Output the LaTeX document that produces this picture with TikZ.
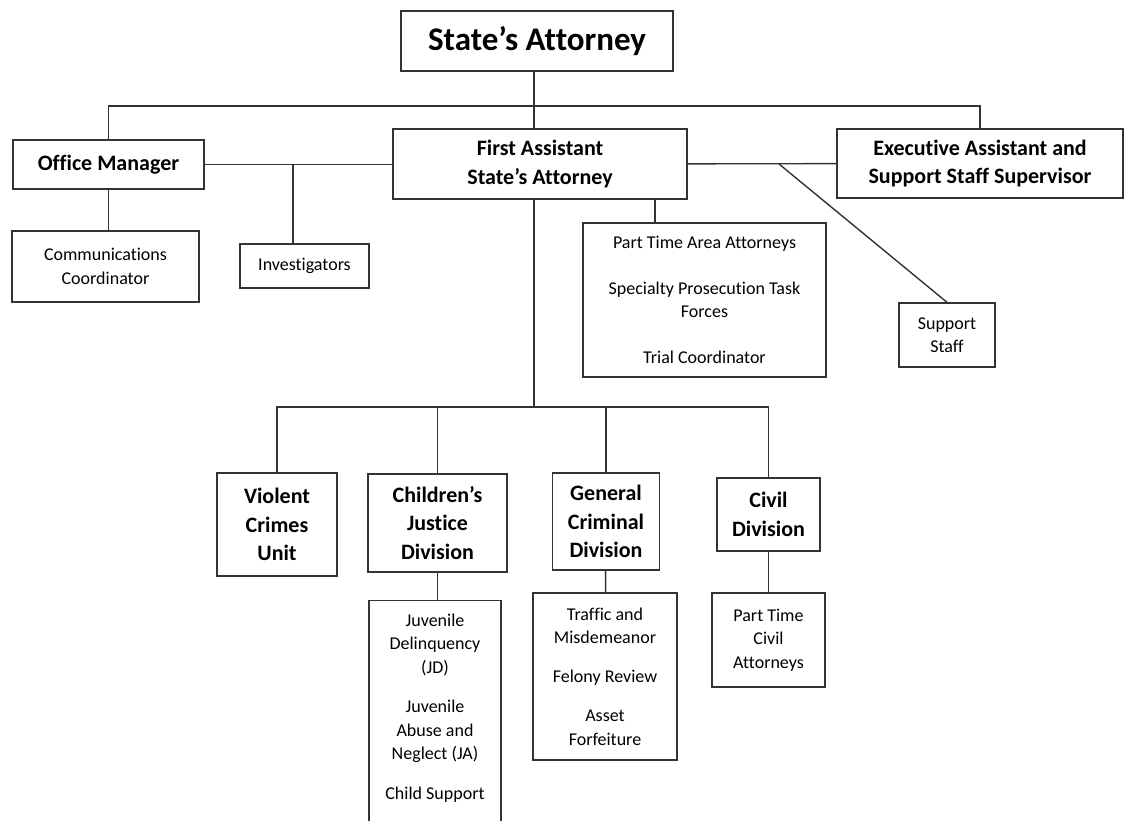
\documentclass[tikz,border=0pt]{standalone}
\usepackage{fontspec}
\setmainfont{Carlito}[Ligatures={TeX,NoCommon}]
\usetikzlibrary{calc,positioning}

\begin{document}
\begin{tikzpicture}[x=1pt, y=-1pt, line width=1.4pt, draw=black!80]
\tikzstyle{every node}=[rectangle, draw=black!80, line width=1.4pt,
                        align=center, inner sep=2pt]
\tikzstyle{head}=[font=\bfseries\fontsize{22}{28.5}\selectfont]
\tikzstyle{staff}=[font=\fontsize{18}{23.5}\selectfont]
\useasboundingbox (0,0) rectangle (1124,821);
% top of the office
\node[font=\bfseries\fontsize{33}{40}\selectfont, minimum width=272, minimum height=60] (SA) at (537,41) {State's Attorney};
\node[head, minimum width=191, minimum height=49] (OM) at (108.5,164.5) {Office Manager};
\node[head, minimum width=294, minimum height=70] (FA) at (540,164) {First Assistant\\State's Attorney};
\node[head, minimum width=286, minimum height=69] (EA) at (980,163.5) {Executive Assistant and\\Support Staff Supervisor};
% staff
\node[staff, minimum width=187, minimum height=71] (CC) at (105.5,266.5) {Communications\\Coordinator};
\node[staff, minimum width=129, minimum height=44] (INV) at (304.5,266) {Investigators};
\node[staff, minimum width=243, minimum height=154] (PT) at (704.5,300) {Part Time Area Attorneys\\[22pt]Specialty Prosecution Task\\Forces\\[22pt]Trial Coordinator};
\node[staff, minimum width=96, minimum height=64] (SS) at (947,335) {Support\\Staff};
% divisions
\node[head, minimum width=120, minimum height=103] (VC) at (277,524.5) {Violent\\Crimes\\Unit};
\node[head, minimum width=139, minimum height=98] (CJ) at (437.5,523) {Children's\\Justice\\Division};
\node[head, minimum width=107, minimum height=97] (GC) at (606,521.5) {General\\Criminal\\Division};
\node[head, minimum width=103, minimum height=73] (CD) at (768.5,514.5) {Civil\\Division};
\node[staff, anchor=north, minimum width=132, inner ysep=13pt] (JUV) at (435,600) {Juvenile\\Delinquency\\(JD)\\[16pt]Juvenile\\Abuse and\\Neglect (JA)\\[16pt]Child Support\\[60pt]\mbox{}};
\node[staff, minimum width=144, minimum height=167] (TM) at (605,676.5) {Traffic and\\Misdemeanor\\[15.5pt]Felony Review\\[15.5pt]Asset\\Forfeiture};
\node[staff, minimum width=113, minimum height=94] (PTC) at (768.5,640) {Part Time\\Civil\\Attorneys};
% joints
\coordinate (top) at (534,106);
\coordinate (inv) at (293,165);
\coordinate (ss) at (779,164);
\coordinate (pt) at (655,199);
\coordinate (bus) at (534,407);
\draw (SA.south -| top) -- (top) -- (top |- FA.north);
\draw (OM) |- (top) -| (EA);
\draw (OM) -- (OM -| FA.west);
\draw (FA) -- (EA);
\draw (inv) -- (inv |- INV.north);
\draw (CC.north -| OM) -- (OM);
\draw (ss) -- (SS.north);
\draw (pt) -- (pt |- PT.north);
\draw (FA.south -| bus) -- (bus);
\draw (VC) |- (bus) -| (CD);
\draw (CJ) -- (CJ |- bus);
\draw (GC) -- (GC |- bus);
\draw (CJ) -- (CJ |- JUV.north);
\draw (GC) -- (TM);
\draw (CD) -- (PTC);
\end{tikzpicture}
\end{document}
